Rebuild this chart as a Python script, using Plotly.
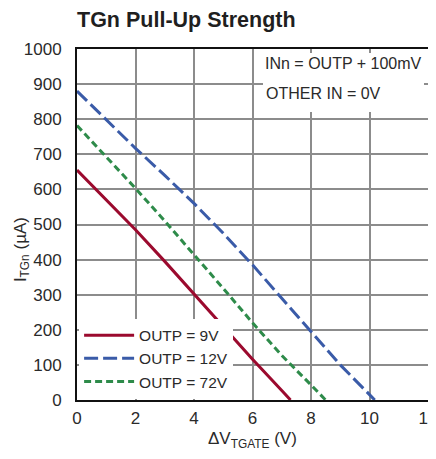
import plotly.graph_objects as go

# Data
x_red = [0, 1, 2, 3, 4, 5, 6, 7, 7.3]
y_red = [655, 570, 485, 395, 302, 208, 116, 27, 0]

x_blue = [0, 1, 2, 3, 4, 5, 6, 7, 8, 9, 10.18]
y_blue = [880, 797, 717, 640, 560, 475, 385, 290, 194, 100, 0]

x_green = [0, 1, 2, 3, 4, 5, 6, 7, 8, 8.5]
y_green = [782, 693, 603, 510, 415, 318, 220, 127, 43, 0]

names = ["OUTP = 9V", "OUTP = 12V", "OUTP = 72V"]
x_ticks = [0, 2, 4, 6, 8, 10, 12]
y_ticks = [0, 100, 200, 300, 400, 500, 600, 700, 800, 900, 1000]

FONT = "Liberation Sans, Arial, Helvetica, sans-serif"
TXT = "#2a2a2a"
# page body has an 8px margin, so the figure is sized/offset accordingly
W, H = 428, 451
L, R, T, B = 69, 8, 41, 59

fig = go.Figure()
fig.add_trace(go.Scatter(x=x_red, y=y_red, mode="lines", name=names[0],
                         line=dict(color="#9b0a2e", width=3)))
fig.add_trace(go.Scatter(x=x_blue, y=y_blue, mode="lines", name=names[1],
                         line=dict(color="#3a5ba8", width=3, dash="14px,5px")))
fig.add_trace(go.Scatter(x=x_green, y=y_green, mode="lines", name=names[2],
                         line=dict(color="#2e8b4a", width=3, dash="7px,4px")))

axis_common = dict(showgrid=True, gridcolor="#8c8c8c", gridwidth=1.5,
                   showline=True, linecolor="#111111", linewidth=2, mirror=True,
                   ticks="", zeroline=False, ticklabeloverflow="allow",
                   tickfont=dict(family=FONT, size=17, color=TXT))

fig.update_xaxes(range=[0, 12], tickvals=x_ticks, ticktext=[str(v) for v in x_ticks],
                 ticklabelstandoff=2, **axis_common)
fig.update_yaxes(range=[0, 1000], tickvals=y_ticks, ticktext=[str(v) for v in y_ticks],
                 ticklabelstandoff=10, **axis_common)

fig.update_layout(
    width=W, height=H,
    margin=dict(l=L, r=R, t=T, b=B, autoexpand=False),
    paper_bgcolor="white", plot_bgcolor="white",
    title=dict(text="<b>TGn Pull-Up Strength</b>", x=L / W, xanchor="left",
               y=1 - 11 / H, yanchor="middle",
               font=dict(family=FONT, size=21.5, color="#1f1f1f")),
    legend=dict(x=0.006, y=0.004, xanchor="left", yanchor="bottom",
                bgcolor="white", borderwidth=0,
                font=dict(family=FONT, size=15.5, color=TXT),
                tracegroupgap=0, itemwidth=50),
    showlegend=True,
)

# axis titles
fig.add_annotation(xref="paper", yref="paper", x=0.5, y=-0.114, xanchor="center", yanchor="middle",
                   text="ΔV<sub>TGATE</sub> (V)", showarrow=False,
                   font=dict(family=FONT, size=17, color=TXT))
fig.add_annotation(xref="paper", yref="paper", x=-(L - 14) / 351, y=0.427, xanchor="center", yanchor="middle",
                   text="I<sub>TGn</sub> (µA)", showarrow=False, textangle=-90,
                   font=dict(family=FONT, size=17, color=TXT))

# condition text: first line carries the white box that hides the grid
fig.add_annotation(xref="paper", yref="paper", x=0.5299, y=0.989, xanchor="left", yanchor="top",
                   text="INn = OUTP + 100mV", showarrow=False,
                   width=157, height=55, borderpad=2, align="left", valign="top",
                   bgcolor="white", borderwidth=0,
                   font=dict(family=FONT, size=16, color=TXT))
fig.add_annotation(xref="paper", yref="paper", x=0.533, y=0.872, xanchor="left", yanchor="middle",
                   text="OTHER IN = 0V", showarrow=False,
                   font=dict(family=FONT, size=16, color=TXT))

fig.write_html("out.html")
